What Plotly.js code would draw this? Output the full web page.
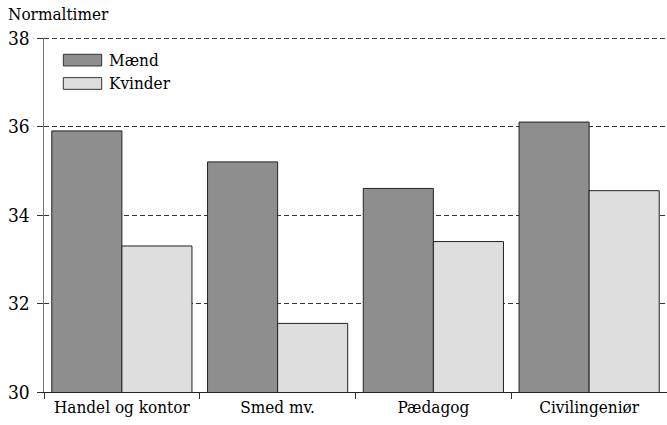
<!DOCTYPE html>
<html>
<head>
<meta charset="utf-8">
<script src="https://cdn.plot.ly/plotly-3.0.1.min.js"></script>
<style>html,body{margin:0;padding:0;background:#fff;}#chart{width:667px;height:425px;}</style>
</head>
<body>
<div id="chart"></div>
<script>
const categories = ["Handel og kontor", "Smed mv.", "Pædagog", "Civilingeniør"];
const seriesNames = ["Mænd", "Kvinder"];
const maend = [35.9, 35.2, 34.6, 36.1];
const kvinder = [33.3, 31.55, 33.4, 34.55];
const yTicks = [30, 32, 34, 36, 38];
const yTitle = "Normaltimer";

const colors = ["#8e8e8e", "#dedede"];
const font = "DejaVu Serif Condensed, DejaVu Serif";

const traces = [maend, kvinder].map((vals, i) => ({
  type: "bar",
  name: seriesNames[i],
  x: categories,
  y: vals,
  marker: {color: colors[i], line: {color: "#222", width: 1}},
  showlegend: false,
  hoverinfo: "none"
}));

const shapes = [];
const legendAnn = [];
const legY = [[0.921, 0.954], [0.855, 0.888]];
seriesNames.forEach((n, i) => {
  shapes.push({type: "rect", xref: "paper", yref: "paper",
    x0: 0.031, x1: 0.0926, y0: legY[i][0], y1: legY[i][1],
    fillcolor: colors[i], line: {color: "#333", width: 1}});
  legendAnn.push({xref: "paper", yref: "paper", x: 0.101, y: (legY[i][0] + legY[i][1]) / 2,
    xanchor: "left", yanchor: "middle", showarrow: false, text: n,
    font: {family: font, size: 17, color: "#000"}});
});
const yMax = Math.max(...yTicks);
shapes.push({type: "line", xref: "paper", yref: "y", x0: 0, x1: 1, y0: yMax, y1: yMax,
  line: {color: "#000", width: 1.5, dash: "5px,3px"}, layer: "below"});

const layout = {
  width: 667, height: 425,
  margin: {l: 44, r: 0, t: 38, b: 33},
  paper_bgcolor: "#fff", plot_bgcolor: "#fff",
  barmode: "group", bargap: 0.1, bargroupgap: 0,
  font: {family: font, size: 17, color: "#000"},
  title: {text: yTitle, xref: "container", yref: "container", x: 0.012, xanchor: "left",
    y: 0.982, yanchor: "top", font: {family: font, size: 17, color: "#000"}},
  xaxis: {type: "category", tickson: "boundaries", ticks: "outside", ticklen: 6,
    tickcolor: "#333", showline: true, linecolor: "#222", linewidth: 1, tickangle: 0,
    showgrid: false, tickfont: {family: font, size: 17, color: "#000"}, fixedrange: true},
  yaxis: {range: [30, yMax], tickvals: yTicks,
    ticks: "outside", ticklen: 6, tickcolor: "#333", showline: true, linecolor: "#777",
    linewidth: 1.5, showgrid: true, gridcolor: "#333", griddash: "5px,3px", gridwidth: 1,
    zeroline: false, tickfont: {family: font, size: 19, color: "#000"}, ticklabelstandoff: 3,
    fixedrange: true},
  shapes: shapes,
  annotations: legendAnn
};

Plotly.newPlot("chart", traces, layout, {displayModeBar: false, staticPlot: true});
</script>
</body>
</html>
